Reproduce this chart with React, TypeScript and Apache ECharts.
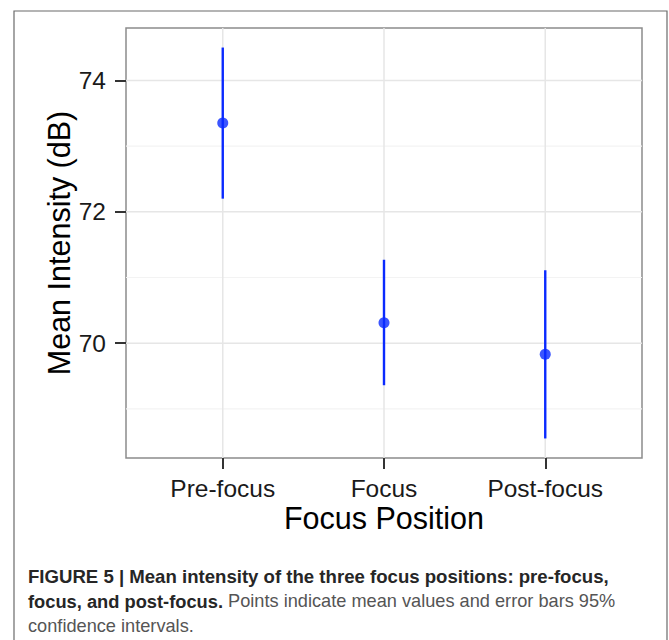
import React, { useEffect, useRef } from "react";
import * as echarts from "echarts";

// ---- data ----
const categories = ["Pre-focus", "Focus", "Post-focus"];
const means = [73.35, 70.31, 69.83];
const lowers = [72.2, 69.36, 68.55];
const uppers = [74.5, 71.27, 71.11];
const yTickValues = [70, 72, 74];
const yMinorValues = [69, 71, 73];
const xTitle = "Focus Position";
const yTitle = "Mean Intensity (dB)";
const captionBold1 = "FIGURE 5 | Mean intensity of the three focus positions: pre-focus,";
const captionBold2 = "focus, and post-focus.";
const captionReg2 = " Points indicate mean values and error bars 95%";
const captionReg3 = "confidence intervals.";

const FONT = '"Liberation Sans", Arial, Helvetica, sans-serif';
const BLUE = "#0a2aff";

export default function App() {
  const ref = useRef<HTMLDivElement>(null);

  useEffect(() => {
    if (!ref.current) return;
    const chart = echarts.init(ref.current, undefined, { renderer: "svg" });

    const xs = categories.map((_, i) => i + 1);
    const xMin = 0.4;
    const xMax = categories.length + 0.6;
    const lo = Math.min(...lowers);
    const hi = Math.max(...uppers);
    const pad = (hi - lo) * 0.05;
    const yMin = lo - pad;
    const yMax = hi + pad;

    // gridline items: [orientation (0 = horizontal, 1 = vertical), value, major]
    const gridItems: number[][] = [
      ...yMinorValues.map((v) => [0, v, 0]),
      ...yTickValues.map((v) => [0, v, 1]),
      ...xs.map((v) => [1, v, 1]),
    ];

    const option: any = {
      animation: false,
      backgroundColor: "#ffffff",
      grid: {
        left: 126,
        top: 28,
        width: 516,
        height: 430,
        show: true,
        backgroundColor: "#ffffff",
        borderColor: "#8c8c8c",
        borderWidth: 1.5,
      },
      xAxis: {
        type: "value",
        min: xMin,
        max: xMax,
        axisLine: { show: false },
        axisTick: {
          show: true,
          customValues: xs,
          length: 11,
          lineStyle: { color: "#333333", width: 2 },
        },
        axisLabel: {
          customValues: xs,
          formatter: (v: number) => categories[Math.round(v) - 1] ?? "",
          margin: 18,
          fontSize: 24.5,
          color: "#1a1a1a",
          fontFamily: FONT,
        },
        splitLine: { show: false },
        name: xTitle,
        nameLocation: "middle",
        nameGap: 44,
        nameMoveOverlap: false,
        nameTextStyle: { fontSize: 30.5, color: "#000000", fontFamily: FONT },
      },
      yAxis: {
        type: "value",
        min: yMin,
        max: yMax,
        axisLine: { show: false },
        axisTick: {
          show: true,
          customValues: yTickValues,
          length: 11,
          lineStyle: { color: "#333333", width: 2 },
        },
        axisLabel: {
          customValues: yTickValues,
          margin: 20,
          fontSize: 24.5,
          color: "#1a1a1a",
          fontFamily: FONT,
        },
        splitLine: { show: false },
        name: yTitle,
        nameLocation: "middle",
        nameGap: 52,
        nameMoveOverlap: false,
        nameTextStyle: { fontSize: 30.5, color: "#000000", fontFamily: FONT },
      },
      series: [
        {
          type: "custom",
          z: 1,
          silent: true,
          data: gridItems,
          renderItem: (params: any, api: any) => {
            const orient = api.value(0);
            const v = api.value(1);
            const major = api.value(2);
            let p1, p2;
            if (orient === 0) {
              p1 = api.coord([xMin, v]);
              p2 = api.coord([xMax, v]);
            } else {
              p1 = api.coord([v, yMin]);
              p2 = api.coord([v, yMax]);
            }
            return {
              type: "line",
              shape: { x1: p1[0], y1: p1[1], x2: p2[0], y2: p2[1] },
              style: {
                stroke: major ? "#e6e6e6" : "#f3f3f3",
                lineWidth: major ? 1.5 : 1.2,
              },
            };
          },
        },
        {
          type: "custom",
          z: 3,
          silent: true,
          data: xs.map((x, i) => [x, lowers[i], uppers[i]]),
          renderItem: (params: any, api: any) => {
            const x = api.value(0);
            const a = api.coord([x, api.value(1)]);
            const b = api.coord([x, api.value(2)]);
            return {
              type: "line",
              shape: { x1: a[0], y1: a[1], x2: b[0], y2: b[1] },
              style: { stroke: BLUE, lineWidth: 2.4 },
            };
          },
        },
        {
          type: "scatter",
          z: 4,
          silent: true,
          symbol: "circle",
          symbolSize: 11,
          itemStyle: { color: BLUE },
          data: xs.map((x, i) => [x, means[i]]),
        },
      ],
      graphic: [
        {
          type: "rect",
          silent: true,
          shape: { x: 14, y: 11, width: 653, height: 660 },
          style: { fill: "none", stroke: "#6b6b6b", lineWidth: 1.2 },
        },
        {
          type: "text",
          x: 28,
          y: 576.5,
          silent: true,
          style: {
            text: captionBold1,
            fontSize: 18.6,
            fontWeight: "bold",
            fontFamily: FONT,
            fill: "#262626",
            verticalAlign: "middle",
          },
        },
        {
          type: "text",
          x: 28,
          y: 601,
          silent: true,
          style: {
            text: `{b|${captionBold2}}{r|${captionReg2}}`,
            verticalAlign: "middle",
            rich: {
              b: { fontSize: 18.3, fontWeight: "bold", fontFamily: FONT, fill: "#262626" },
              r: { fontSize: 18.2, fontWeight: "normal", fontFamily: FONT, fill: "#555555" },
            },
          },
        },
        {
          type: "text",
          x: 28,
          y: 625.5,
          silent: true,
          style: {
            text: captionReg3,
            fontSize: 18.2,
            fontFamily: FONT,
            fill: "#555555",
            verticalAlign: "middle",
          },
        },
      ],
    };

    chart.setOption(option);
    return () => chart.dispose();
  }, []);

  return (
    <div
      ref={ref}
      style={{ position: "fixed", left: 0, top: 0, width: 669, height: 640, background: "#fff" }}
    />
  );
}
